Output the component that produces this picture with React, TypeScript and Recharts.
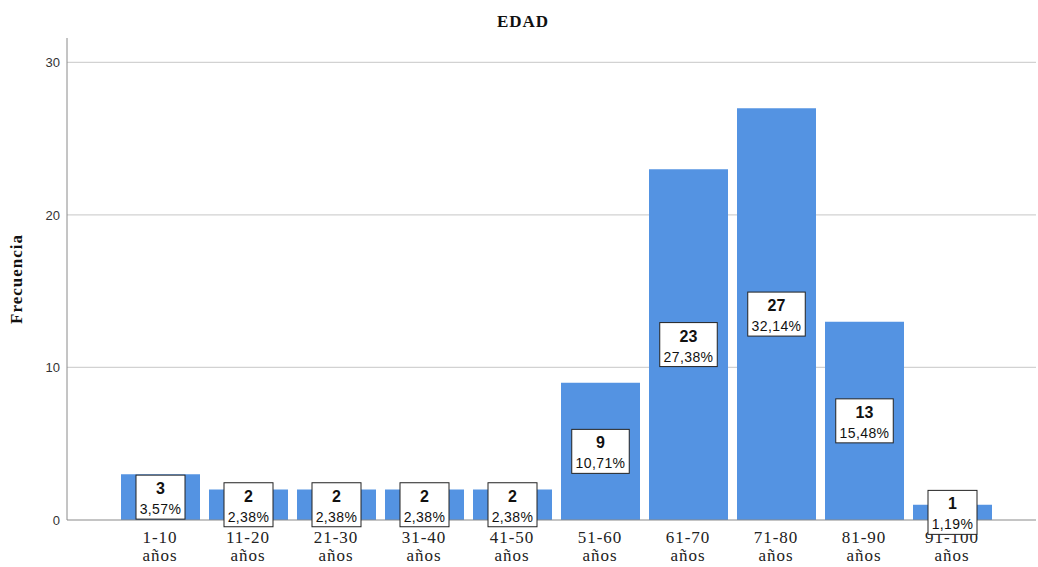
import React from 'react';
import { BarChart, Bar, XAxis, YAxis, CartesianGrid, LabelList } from 'recharts';

// Grupos de edad, frecuencias y porcentajes
const rangos = ['1-10', '11-20', '21-30', '31-40', '41-50', '51-60', '61-70', '71-80', '81-90', '91-100'];
const frecuencias = [3, 2, 2, 2, 2, 9, 23, 27, 13, 1];
const porcentajes = ['3,57%', '2,38%', '2,38%', '2,38%', '2,38%', '10,71%', '27,38%', '32,14%', '15,48%', '1,19%'];
const ticksY = [0, 10, 20, 30];

const data = rangos.map((rango, i) => ({
  rango,
  frecuencia: frecuencias[i],
  porcentaje: porcentajes[i],
}));

const SERIF = '"Liberation Serif", "Times New Roman", serif';
const SANS = '"Liberation Sans", Arial, sans-serif';

const EdadTick = ({ x, y, payload }: any) => (
  <text x={x} y={y} textAnchor="middle" fontFamily={SERIF} fontSize={17} letterSpacing={1} fill="#222">
    <tspan x={x} dy={23}>{payload.value}</tspan>
    <tspan x={x} dy={18}>años</tspan>
  </text>
);

// Caja blanca con la frecuencia y el porcentaje, centrada en la barra
const EtiquetaCaja = (props: any) => {
  const { x, y, width, height, value, index } = props;
  const pct = data[index].porcentaje;
  const cx = x + width / 2;
  const cy = y + height / 2;
  const w = pct.length * 8.5 + 6.5;
  const h = 44;
  return (
    <g>
      <rect x={cx - w / 2} y={cy - h / 2} width={w} height={h} fill="#fff" stroke="#222" strokeWidth={1} />
      <text x={cx} y={cy - 3} textAnchor="middle" fontFamily={SANS} fontWeight="bold" fontSize={16} fill="#111">
        {value}
      </text>
      <text x={cx} y={cy + 17} textAnchor="middle" fontFamily={SANS} fontSize={14} letterSpacing={0.4} fill="#111">
        {pct}
      </text>
    </g>
  );
};

export default function App() {
  return (
    <div style={{ position: 'absolute', left: 0, top: 0, width: 1038, height: 567, background: '#fff' }}>
      <div
        style={{
          position: 'absolute', left: 523, top: 22, transform: 'translate(-50%, -50%)',
          fontFamily: SERIF, fontWeight: 'bold', fontSize: 17, letterSpacing: 1, color: '#111',
        }}
      >
        EDAD
      </div>
      <div
        style={{
          position: 'absolute', left: 17, top: 279, transform: 'translate(-50%, -50%) rotate(-90deg)',
          fontFamily: SERIF, fontWeight: 'bold', fontSize: 17, letterSpacing: 1, color: '#111', whiteSpace: 'nowrap',
        }}
      >
        Frecuencia
      </div>
      <BarChart
        width={1038}
        height={567}
        data={data}
        margin={{ top: 38, right: 2, left: 7, bottom: 17 }}
      >
        <CartesianGrid vertical={false} horizontalValues={[10, 20, 30]} stroke="#d2d2d2" strokeWidth={1.2} />
        <XAxis
          dataKey="rango"
          height={30}
          interval={0}
          padding={{ left: 49, right: 40 }}
          tickLine={false}
          tickSize={0}
          tickMargin={0}
          tick={<EdadTick />}
          stroke="#8a8a8a"
        />
        <YAxis
          width={60}
          domain={[0, 31.6]}
          ticks={ticksY}
          tickLine={false}
          tickSize={0}
          tickMargin={7}
          stroke="#8a8a8a"
          tick={{ fill: '#333', fontSize: 13, fontFamily: SANS }}
        />
        <Bar dataKey="frecuencia" fill="#5493e2" barSize={79} isAnimationActive={false}>
          <LabelList dataKey="frecuencia" content={<EtiquetaCaja />} />
        </Bar>
      </BarChart>
    </div>
  );
}
